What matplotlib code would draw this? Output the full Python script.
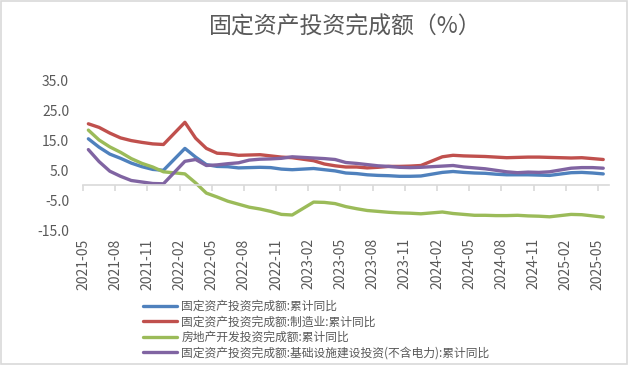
import matplotlib
matplotlib.use("Agg")
import matplotlib.pyplot as plt
from matplotlib.patches import Rectangle

plt.rcParams['font.family'] = ['Noto Sans CJK SC', 'DejaVu Sans']
plt.rcParams['axes.unicode_minus'] = False

# 数据（1月与2月合并发布，故无1月）
dates = ['2021-05', '2021-06', '2021-07', '2021-08', '2021-09', '2021-10', '2021-11', '2021-12',
         '2022-02', '2022-03', '2022-04', '2022-05', '2022-06', '2022-07', '2022-08', '2022-09',
         '2022-10', '2022-11', '2022-12',
         '2023-02', '2023-03', '2023-04', '2023-05', '2023-06', '2023-07', '2023-08', '2023-09',
         '2023-10', '2023-11', '2023-12',
         '2024-02', '2024-03', '2024-04', '2024-05', '2024-06', '2024-07', '2024-08', '2024-09',
         '2024-10', '2024-11', '2024-12',
         '2025-02', '2025-03', '2025-04', '2025-05']

fai_total = [15.4, 12.6, 10.3, 8.9, 7.3, 6.1, 5.2, 4.9,
             12.2, 9.3, 6.8, 6.2, 6.1, 5.7, 5.8, 5.9, 5.8, 5.3, 5.1,
             5.5, 5.1, 4.7, 4.0, 3.8, 3.4, 3.2, 3.1, 2.9, 2.9, 3.0,
             4.2, 4.5, 4.2, 4.0, 3.9, 3.6, 3.4, 3.4, 3.4, 3.3, 3.2,
             4.1, 4.2, 4.0, 3.7]
fai_manuf = [20.4, 19.2, 17.3, 15.7, 14.8, 14.2, 13.7, 13.5,
             20.9, 15.6, 12.2, 10.6, 10.4, 9.9, 10.0, 10.1, 9.7, 9.3, 9.1,
             8.1, 7.0, 6.4, 6.0, 6.0, 5.7, 5.9, 6.2, 6.2, 6.3, 6.5,
             9.4, 9.9, 9.7, 9.6, 9.5, 9.3, 9.1, 9.2, 9.3, 9.3, 9.2,
             9.0, 9.1, 8.8, 8.5]
real_estate = [18.3, 15.0, 12.7, 10.9, 8.8, 7.2, 6.0, 4.4,
               3.7, 0.7, -2.7, -4.0, -5.4, -6.4, -7.4, -8.0, -8.8, -9.8, -10.0,
               -5.7, -5.8, -6.2, -7.2, -7.9, -8.5, -8.8, -9.1, -9.3, -9.4, -9.6,
               -9.0, -9.5, -9.8, -10.1, -10.1, -10.2, -10.2, -10.1, -10.3, -10.4, -10.6,
               -9.8, -9.9, -10.3, -10.7]
infra = [11.8, 7.8, 4.6, 2.9, 1.5, 1.0, 0.5, 0.4,
         7.9, 8.5, 6.5, 6.7, 7.1, 7.4, 8.3, 8.6, 8.7, 8.9, 9.4,
         9.0, 8.8, 8.5, 7.5, 7.2, 6.8, 6.4, 6.2, 5.9, 5.8, 5.9,
         6.3, 6.5, 6.0, 5.7, 5.4, 4.9, 4.4, 4.1, 4.3, 4.2, 4.4,
         5.6, 5.8, 5.8, 5.6]

series_names = ['固定资产投资完成额:累计同比',
                '固定资产投资完成额:制造业:累计同比',
                '房地产开发投资完成额:累计同比',
                '固定资产投资完成额:基础设施建设投资(不含电力):累计同比']
series_colors = ['#4F81BD', '#C0504D', '#9BBB59', '#8064A2']

y_ticks = [-15, -5, 5, 15, 25, 35]
tick_labels = ['2021-05', '2021-08', '2021-11', '2022-02', '2022-05', '2022-08', '2022-11',
               '2023-02', '2023-05', '2023-08', '2023-11', '2024-02', '2024-05', '2024-08',
               '2024-11', '2025-02', '2025-05']


def month_index(s):
    y, m = s.split('-')
    return (int(y) - 2021) * 12 + int(m) - 5


x = [month_index(d) for d in dates]
n_months = month_index(dates[-1]) + 1

fig = plt.figure(figsize=(6.29, 3.67), dpi=100)
ax = fig.add_axes([83 / 629, 1 - 230 / 367, (608.6 - 83) / 629, 150 / 367])

for vals, name, c in zip([fai_total, fai_manuf, real_estate, infra], series_names, series_colors):
    ax.plot(x, vals, color=c, linewidth=2.4, label=name, solid_joinstyle='round', solid_capstyle='round')

ax.set_xlim(-0.5, n_months - 0.5)
ax.set_ylim(-15, 35)

grey = '#d9d9d9'
txt = '#595959'
for s in ['top', 'right', 'left']:
    ax.spines[s].set_visible(False)
ax.spines['bottom'].set_position(('data', 0))
ax.spines['bottom'].set_color(grey)
ax.spines['bottom'].set_linewidth(1.2)

tick_pos = [month_index(t) - 0.5 for t in tick_labels]
ax.set_xticks(tick_pos)
ax.tick_params(axis='x', direction='out', length=4, width=1.2, color=grey, labelbottom=False)

ax.set_yticks(y_ticks)
ax.set_yticklabels([f'{v:.1f}' for v in y_ticks])
ax.tick_params(axis='y', length=0, pad=10, labelsize=10, labelcolor=txt)

sec = ax.secondary_xaxis('bottom')
sec.set_xticks(tick_pos)
sec.set_xticklabels(tick_labels, rotation=90)
sec.tick_params(length=0, pad=6, labelsize=10, labelcolor=txt)
sec.spines['bottom'].set_visible(False)

fig.text(345 / 629, 1 - 27 / 367, '固定资产投资完成额（%）', ha='center', va='center',
         fontsize=16.5, color=txt)

leg = fig.legend(loc='upper left', bbox_to_anchor=(143 / 629, 1 - 300 / 367), frameon=False,
                 fontsize=8.5, handlelength=2.9, handletextpad=0.35, labelspacing=0.2,
                 borderpad=0, borderaxespad=0)
for t in leg.get_texts():
    t.set_color(txt)
for h in leg.get_lines():
    h.set_linewidth(2.4)

fig.patches.append(Rectangle((1 / 629, 1 - 364.3 / 367), 626.3 / 629, 363.3 / 367,
                             transform=fig.transFigure, fill=False, edgecolor=grey, linewidth=1.2))

fig.savefig('out.png', dpi=100)
